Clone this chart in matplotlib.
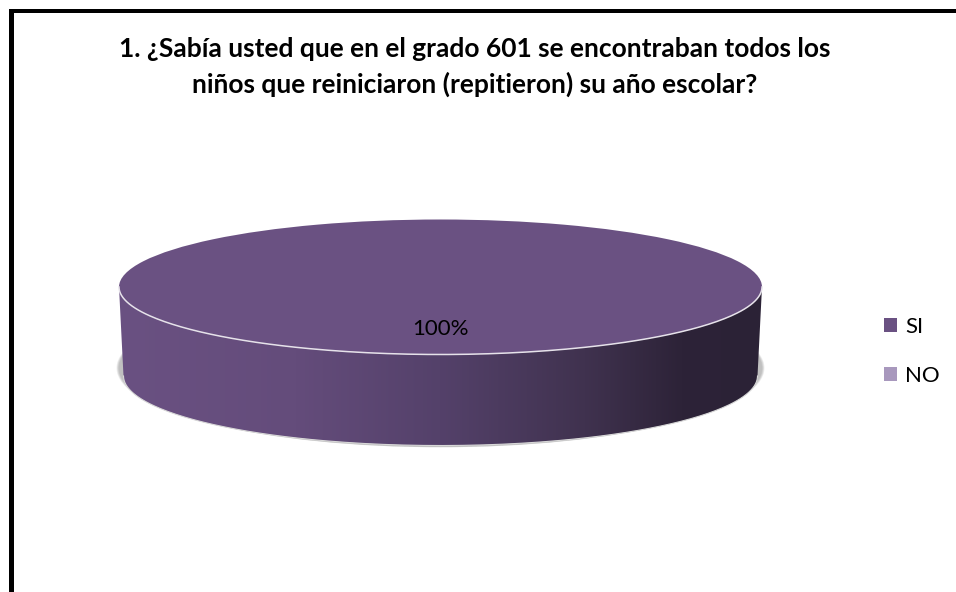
import numpy as np
import matplotlib
matplotlib.use('Agg')
import matplotlib.pyplot as plt
from matplotlib.patches import Ellipse, Polygon, Rectangle

plt.rcParams['font.family'] = ['Lato', 'DejaVu Sans']

title_lines = ['1. ¿Sabía usted que en el grado 601 se encontraban todos los',
               'niños que reiniciaron (repitieron) su año escolar?']
categories = ['SI', 'NO']
values = [100, 0]
colors = ['#6a5182', '#a898bd']

W, H = 956, 592
cx, cy = 440.5, 287      # centre of the top ellipse, pixels
rx, ry = 321.5, 67.5
depth = 89 / ry          # drop of the bottom ellipse centre, pie units
bottom_x = 0.986         # bottom ellipse is a bit narrower (perspective)
bottom_y = 1.03

fig = plt.figure(figsize=(W / 100, H / 100), dpi=100)
ax = fig.add_axes([0, 0, 1, 1])

wedges, texts, autotexts = ax.pie(
    values, colors=colors, startangle=90, radius=1, counterclock=False,
    autopct=lambda p: f'{p:.0f}%' if p > 0 else '', pctdistance=0.615,
    wedgeprops=dict(edgecolor='none'), textprops=dict(fontsize=16, color='black'))
for w in wedges:
    w.set_zorder(5)
for t in autotexts:
    t.set_zorder(7)

# front rim of the disc
t = np.linspace(np.pi, 2 * np.pi, 200)
rim_x, rim_y = np.cos(t), np.sin(t)
low_x, low_y = rim_x * bottom_x, rim_y * bottom_y - depth

# soft shadow under the bottom edge, stacked faint ellipses
for grow in [1.008, 1.0065, 1.005, 1.0035, 1.002, 1.0005]:
    ax.add_patch(Ellipse((0, -81 / ry), 2 * grow, 2 * (79 / ry) * (1 + (grow - 1) * 0.5),
                         fc='#555555', ec='none', alpha=0.07, zorder=1))

# side wall, horizontal gradient clipped to the wall shape
side = Polygon(np.r_[np.c_[rim_x, rim_y], np.c_[low_x[::-1], low_y[::-1]]],
               closed=True, fc='none', ec='none', zorder=2)
ax.add_patch(side)
stops_x = [-1.0, -0.45, 0.0, 0.45, 0.75, 1.0]
stops_c = ['#6a5182', '#644c7b', '#54416a', '#40324f', '#2d2338', '#2b2236']
xs = np.linspace(-1, 1, 400)
rgb = np.array([matplotlib.colors.to_rgb(c) for c in stops_c])
grad = np.stack([np.interp(xs, stops_x, rgb[:, i]) for i in range(3)], axis=-1)[None, :, :]
im = ax.imshow(grad, extent=[-1, 1, -1 - depth - 0.1, 0], aspect='auto', zorder=3)
im.set_clip_path(side)

# one data unit = rx px across, ry px down, pie centre at the origin
ax.set_aspect('auto')
ax.set_xlim(-cx / rx, (W - cx) / rx)
ax.set_ylim(-(H - cy) / ry, cy / ry)
ax.axis('off')

# light highlight lines on the rim and along the bottom
ax.plot(rim_x, rim_y, color='#e6e2ea', lw=1.1, zorder=6)
ax.plot(low_x, low_y, color='#d8d8d8', lw=0.8, zorder=4)

fig.text(475 / W, 1 - 57 / H, title_lines[0], ha='center', va='baseline',
         fontsize=19, fontweight='bold', color='black')
fig.text(475 / W, 1 - 93 / H, title_lines[1], ha='center', va='baseline',
         fontsize=19, fontweight='bold', color='black')

fig.legend(wedges, categories, loc='center left', bbox_to_anchor=(884 / W, 1 - 351.5 / H),
           frameon=False, fontsize=16, handlelength=0.585, handleheight=0.585,
           handletextpad=0.36, labelspacing=1.3, borderaxespad=0, borderpad=0)

# thick outer frame: left and top only, the source image is cropped on the other sides
fig.add_artist(Rectangle((9, 0), 4.5, H - 9, fc='black', ec='none', transform=None))
fig.add_artist(Rectangle((9, H - 12.5), W - 9, 3.5, fc='black', ec='none', transform=None))

fig.savefig('out.png', dpi=100)
